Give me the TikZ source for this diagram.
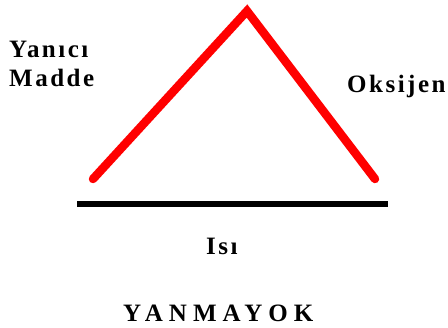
\documentclass[tikz,border=0pt]{standalone}
\usepackage{fontspec}
\setmainfont{Liberation Serif}
\newfontfamily\labelfont[LetterSpace=10]{Liberation Serif}
\newfontfamily\titlefont[LetterSpace=24]{Liberation Serif}
\usetikzlibrary{positioning}
\definecolor{flame}{HTML}{FF0000}

\begin{document}
\begin{tikzpicture}[
  x=1pt, y=-1pt,
  sideline/.style={draw=flame, line width=8.5pt, line cap=round},
  baseline/.style={draw=black, line width=6pt},
  label/.style={inner sep=0pt, anchor=base west, font=\fontsize{25}{29}\selectfont\labelfont\bfseries},
]
\useasboundingbox (0,0) rectangle (448,328);

% Triangle corners
\coordinate (fuel) at (93,179);
\coordinate (top) at (247,11);
\coordinate (oxygen) at (375,179);
\draw[sideline] (fuel) -- (top) -- (oxygen);

% Heat bar
\coordinate (heatL) at (77,204);
\coordinate (heatR) at (388,204);
\draw[baseline] (heatL) -- (heatR);

% Labels
\node[label] (yanici) at (9,58) {Yanıcı};
\node[label] (madde) at (9,87) {Madde};
\node[label] (oksijen) at (347,93) {Oksijen};
\node[label] (isi) at (206,255) {Isı};
\node[label, font=\fontsize{25}{29}\selectfont\titlefont\bfseries] (yanma) at (123,322) {YANMAYOK};

\end{tikzpicture}
\end{document}
